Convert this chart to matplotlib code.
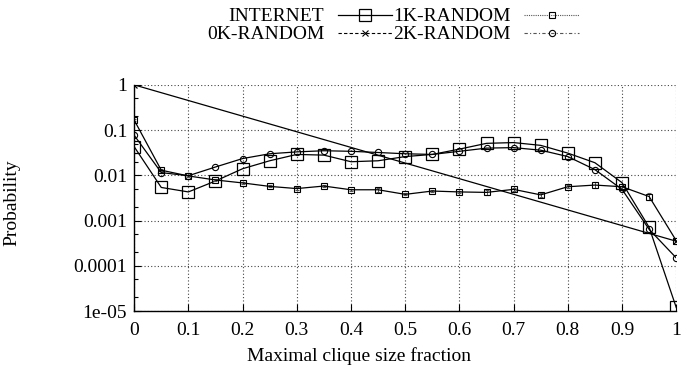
import matplotlib
matplotlib.use('Agg')
import matplotlib.pyplot as plt
from matplotlib.lines import Line2D
from matplotlib.ticker import LogLocator, FixedLocator, NullFormatter

plt.rcParams['font.family'] = ['Liberation Serif', 'DejaVu Serif']
plt.rcParams['font.size'] = 14

# clique size fraction, sampled every 0.05
fraction = [0.0, 0.05, 0.1, 0.15, 0.2, 0.25, 0.3, 0.35, 0.4, 0.45, 0.5,
            0.55, 0.6, 0.65, 0.7, 0.75, 0.8, 0.85, 0.9, 0.95, 1.0]

internet = [0.043, 0.0054, 0.0043, 0.0075, 0.014, 0.021, 0.029, 0.028, 0.020, 0.021, 0.026,
            0.029, 0.038, 0.051, 0.053, 0.046, 0.031, 0.019, 0.0069, 0.00071, 0.000012]

rand_1k = [0.167, 0.013, 0.0097, 0.0079, 0.0068, 0.0057, 0.0051, 0.0058, 0.0048, 0.0048, 0.0038,
           0.0045, 0.0043, 0.0042, 0.0049, 0.0037, 0.0056, 0.0061, 0.0056, 0.0034, 0.00036]
rand_1k_err = [0.008, 0.0008, 0.0005, 0.0005, 0.0004, 0.0003, 0.0004, 0.0004, 0.0003, 0.0005, 0.0002,
               0.0003, 0.0003, 0.0006, 0.0003, 0.0003, 0.0004, 0.0009, 0.0009, 0.0006, 0.00006]

# 0K-random only has non-zero probability at both ends
rand_0k_x = [0.0, 1.0]
rand_0k = [1.0, 0.00035]

rand_2k = [0.077, 0.0115, 0.0098, 0.0153, 0.0235, 0.030, 0.033, 0.035, 0.034, 0.032, 0.030,
           0.029, 0.034, 0.040, 0.041, 0.036, 0.026, 0.0134, 0.0049, 0.00064, 0.00015]

x_ticks = [0, 0.1, 0.2, 0.3, 0.4, 0.5, 0.6, 0.7, 0.8, 0.9, 1]
x_tick_labels = ['0', '0.1', '0.2', '0.3', '0.4', '0.5', '0.6', '0.7', '0.8', '0.9', '1']
y_ticks = [1e-5, 1e-4, 1e-3, 1e-2, 1e-1, 1]
y_tick_labels = ['1e-05', '0.0001', '0.001', '0.01', '0.1', '1']

fig = plt.figure(figsize=(6.81, 3.69), dpi=100)
ax = fig.add_axes([0.197, 0.157, 0.796, 0.613])

ax.plot(fraction, internet, color='black', lw=0.9, marker='s', ms=9,
        mfc='none', mec='black', mew=0.9)
ax.errorbar(fraction, rand_1k, yerr=rand_1k_err, color='black', lw=0.9, marker='s', ms=4.5,
            mfc='none', mec='black', mew=0.8, ecolor='#555555', elinewidth=0.7,
            capsize=1.5, capthick=0.6)
ax.plot(rand_0k_x, rand_0k, color='black', lw=0.9, marker='x', ms=5, mew=0.9)
ax.plot(fraction, rand_2k, color='black', lw=0.9, marker='o', ms=4.5,
        mfc='none', mec='black', mew=0.8)

ax.set_yscale('log')
ax.set_xlim(0, 1)
ax.set_ylim(1e-5, 1)

ax.xaxis.set_major_locator(FixedLocator(x_ticks))
ax.set_xticklabels(x_tick_labels)
ax.yaxis.set_major_locator(FixedLocator(y_ticks))
ax.set_yticklabels(y_tick_labels)
ax.yaxis.set_minor_locator(LogLocator(base=10, subs=(2, 5), numticks=20))
ax.yaxis.set_minor_formatter(NullFormatter())

ax.tick_params(which='both', direction='in', length=5, width=0.8)
ax.tick_params(axis='y', pad=5)
ax.tick_params(axis='x', pad=8)
ax.tick_params(which='minor', length=3)

ax.grid(True, which='major', linestyle=(0, (1, 2)), color='#444444', lw=0.8)
ax.spines['top'].set_visible(False)
ax.spines['right'].set_visible(False)
ax.spines['left'].set_linewidth(1.0)
ax.spines['bottom'].set_linewidth(1.0)

ax.set_xlabel('Maximal clique size fraction', labelpad=6)
ax.xaxis.set_label_coords(0.415, -0.16)
ax.set_ylabel('Probability')
ax.yaxis.set_label_coords(-0.21, 0.48)

handles = [
    Line2D([], [], color='black', lw=0.9, marker='s', ms=9, mfc='none', mew=0.9),
    Line2D([], [], color='black', lw=0.8, ls=(0, (3, 2)), marker='x', ms=4, mew=0.8),
    Line2D([], [], color='#555555', lw=0.8, ls=(0, (1, 1)), marker='s', ms=4.5, mfc='none', mec='black', mew=0.8),
    Line2D([], [], color='#555555', lw=0.8, ls=(0, (3, 2, 1, 2)), marker='o', ms=4.5, mfc='none', mec='black', mew=0.8),
]
labels = ['INTERNET', '0K-RANDOM', '1K-RANDOM', '2K-RANDOM']
fig.legend(handles, labels, loc='upper center', bbox_to_anchor=(0.577, 1.016), ncol=2,
           markerfirst=False, frameon=False, fontsize=14, handlelength=2.8, handletextpad=0.7,
           columnspacing=0.05, labelspacing=0.02, borderpad=0.2)

fig.savefig('out.png', dpi=100)
